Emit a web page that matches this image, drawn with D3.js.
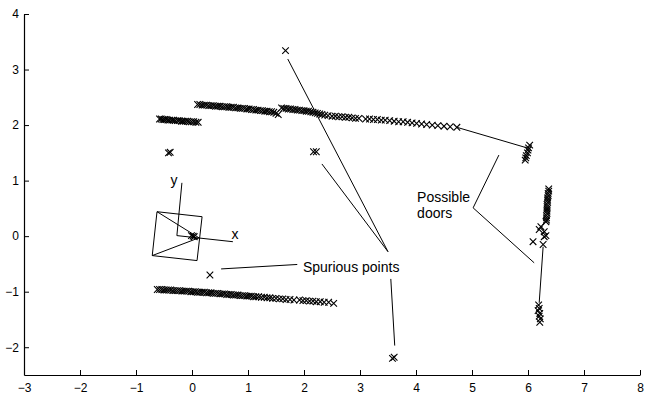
<!DOCTYPE html>
<html>
<head>
<meta charset="utf-8">
<script src="https://cdn.jsdelivr.net/npm/d3@7"></script>
<style>
  body { margin: 0; background: #fff; }
  svg { display: block; font-family: "Liberation Sans", Arial, Helvetica, sans-serif; }
</style>
</head>
<body>
<div id="chart"></div>
<script>
// axis ticks
const xTicks = [-3, -2, -1, 0, 1, 2, 3, 4, 5, 6, 7, 8];
const yTicks = [-2, -1, 0, 1, 2, 3, 4];

// laser scan points [x, y]
const wallUpperLeft = [
  [-0.58,2.11],[-0.55,2.11],[-0.52,2.10],[-0.49,2.10],[-0.46,2.10],[-0.43,2.09],[-0.40,2.09],
  [-0.36,2.09],[-0.33,2.09],[-0.30,2.08],[-0.26,2.08],[-0.23,2.08],[-0.19,2.07],[-0.16,2.07],
  [-0.12,2.07],[-0.08,2.07],[-0.05,2.06],[-0.01,2.06],[0.03,2.06],[0.07,2.05],[0.11,2.05]
];
const wallUpperMid = [
  [0.10,2.37],[0.14,2.37],[0.18,2.36],[0.22,2.36],[0.26,2.36],[0.30,2.35],[0.34,2.35],[0.38,2.35],
  [0.42,2.34],[0.46,2.34],[0.50,2.34],[0.54,2.33],[0.58,2.33],[0.62,2.33],[0.66,2.32],[0.70,2.32],
  [0.74,2.32],[0.78,2.31],[0.82,2.31],[0.86,2.30],[0.90,2.30],[0.94,2.30],[0.98,2.29],[1.02,2.29],
  [1.06,2.28],[1.10,2.28],[1.14,2.27],[1.18,2.27],[1.22,2.26],[1.26,2.26],[1.30,2.25],[1.34,2.25],
  [1.38,2.24],[1.42,2.24],[1.46,2.23],[1.50,2.21],[1.54,2.19]
];
const wallUpperRight = [
  [1.60,2.31],[1.64,2.30],[1.68,2.30],[1.72,2.29],[1.76,2.29],[1.80,2.28],[1.84,2.28],[1.88,2.27],
  [1.92,2.27],[1.96,2.26],[2.00,2.26],[2.04,2.25],[2.08,2.25],[2.12,2.24],[2.16,2.23],[2.20,2.22],
  [2.24,2.21],[2.28,2.20],[2.32,2.19],[2.37,2.18],[2.43,2.17]
];
const wallUpperFar = [
  [2.50,2.16],[2.56,2.16],[2.62,2.15],[2.68,2.15],[2.74,2.14],[2.80,2.14],[2.86,2.13],[2.92,2.12],
  [2.98,2.12],[3.10,2.11],[3.17,2.11],[3.24,2.10],[3.31,2.10],[3.38,2.09],[3.45,2.09],[3.53,2.08],
  [3.61,2.07],[3.69,2.06],[3.77,2.06],[3.85,2.05],[3.93,2.04],[4.01,2.03],[4.10,2.02],[4.19,2.01],
  [4.29,2.00],[4.39,1.99],[4.50,1.98],[4.61,1.97],[4.73,1.96]
];
const doorPostUpper = [
  [6.03,1.64],[6.01,1.59],[6.00,1.55],[5.99,1.50],[5.97,1.45],[5.96,1.41],[5.95,1.37]
];
const wallRight = [
  [6.37,0.85],[6.37,0.81],[6.36,0.77],[6.36,0.73],[6.35,0.69],[6.35,0.65],[6.35,0.61],[6.34,0.57],
  [6.34,0.53],[6.34,0.49],[6.34,0.45],[6.34,0.41],[6.33,0.37],[6.33,0.33],[6.33,0.29],[6.32,0.26],
  [6.23,0.17],[6.20,0.12],[6.29,0.08],[6.32,0.01],[6.29,-0.01],[6.27,-0.15],[6.09,-0.10]
];
const doorPostLower = [
  [6.19,-1.24],[6.20,-1.30],[6.18,-1.34],[6.21,-1.39],[6.20,-1.44],[6.22,-1.49],[6.21,-1.55]
];
const wallLower = [
  [-0.62,-0.96],[-0.58,-0.96],[-0.54,-0.96],[-0.50,-0.97],[-0.46,-0.97],[-0.42,-0.97],[-0.38,-0.97],
  [-0.34,-0.98],[-0.30,-0.98],[-0.26,-0.98],[-0.22,-0.98],[-0.18,-0.99],[-0.14,-0.99],[-0.10,-0.99],
  [-0.06,-0.99],[-0.02,-1.00],[0.02,-1.00],[0.06,-1.00],[0.10,-1.01],[0.14,-1.01],[0.18,-1.01],
  [0.22,-1.01],[0.26,-1.02],[0.30,-1.02],[0.34,-1.02],[0.38,-1.03],[0.42,-1.03],[0.46,-1.03],
  [0.50,-1.04],[0.54,-1.04],[0.58,-1.04],[0.62,-1.05],[0.66,-1.05],[0.70,-1.05],[0.74,-1.06],
  [0.78,-1.06],[0.82,-1.06],[0.86,-1.07],[0.90,-1.07],[0.94,-1.07],[0.98,-1.08],[1.02,-1.08],
  [1.06,-1.08],[1.10,-1.09],[1.14,-1.09],[1.19,-1.09],[1.24,-1.10],[1.29,-1.10],[1.34,-1.11],
  [1.39,-1.11],[1.44,-1.12],[1.50,-1.12],[1.56,-1.13],[1.62,-1.13],[1.68,-1.14],[1.75,-1.14],
  [1.82,-1.15],
  [1.92,-1.15],[1.98,-1.16],[2.04,-1.16],[2.10,-1.17],[2.16,-1.17],[2.22,-1.18],[2.29,-1.18],
  [2.36,-1.19],[2.44,-1.19],[2.53,-1.21]
];
const spurious = [
  [-0.42,1.50],[-0.39,1.51],[1.67,3.34],[2.17,1.52],[2.22,1.52],[0.32,-0.70],[3.58,-2.20],[3.61,-2.18]
];
const robotHits = [[-0.01,0.01],[0.02,0.00],[0.04,-0.01]];

// robot outline, heading triangle and local frame
const robotBox = [[-0.625,0.44],[0.18,0.35],[0.09,-0.44],[-0.71,-0.35],[-0.625,0.44]];
const robotHeading = [[-0.625,0.44],[0.125,-0.03],[-0.71,-0.35]];
const frameX = [[-0.27,0.01],[0.73,-0.10]];
const frameY = [[-0.27,0.01],[-0.18,0.96]];

// gap lines between door posts
const doorGaps = [
  [[4.73,1.96],[5.98,1.59]],
  [[6.27,-0.19],[6.20,-1.20]]
];

// annotations: text anchor and leader lines
const doorLabel = { text: ["Possible", "doors"], at: [4.02, 0.62] };
const doorLeaders = [[[5.02,0.51],[5.48,1.46]], [[5.02,0.51],[6.11,-0.48]]];
const spuriousLabel = { text: "Spurious points", at: [1.98, -0.64] };
const spuriousLeaders = [
  [[0.52,-0.59],[1.88,-0.51]],
  [[1.71,3.19],[3.50,-0.28]],
  [[2.32,1.30],[3.50,-0.28]],
  [[3.55,-0.77],[3.62,-1.97]]
];

const width = 658, height = 394;
const margin = { top: 14, right: 18, bottom: 19, left: 24 };

const svg = d3.select("#chart").append("svg")
  .attr("width", width)
  .attr("height", height);

const x = d3.scaleLinear().domain([-3, 8]).range([margin.left, width - margin.right]);
const y = d3.scaleLinear().domain([-2.5, 4]).range([height - margin.bottom, margin.top]);

const fmt = d => d < 0 ? "\u2212" + Math.abs(d) : String(d);

// x axis, ticks pointing inward
const xAxis = svg.append("g")
  .attr("transform", "translate(0," + (height - margin.bottom) + ")")
  .call(d3.axisBottom(x).tickValues(xTicks).tickFormat(fmt).tickSizeInner(-5).tickSizeOuter(0));
xAxis.selectAll("text").attr("dy", "0.71em").attr("y", 8);

const yAxis = svg.append("g")
  .attr("transform", "translate(" + margin.left + ",0)")
  .call(d3.axisLeft(y).tickValues(yTicks).tickFormat(fmt).tickSizeInner(-5).tickSizeOuter(0));
yAxis.selectAll("text").attr("x", -5);

svg.selectAll(".domain").attr("stroke", "#000").attr("stroke-width", 1.2);
svg.selectAll(".tick line").attr("stroke", "#000");
svg.selectAll(".tick text").attr("font-size", 12).attr("fill", "#000")
  .attr("font-family", "Liberation Sans, Arial, sans-serif");

const line = d3.line().x(d => x(d[0])).y(d => y(d[1]));

// lines
const lineGroup = svg.append("g").attr("fill", "none").attr("stroke", "#000").attr("stroke-width", 1);
[robotBox, robotHeading, frameX, frameY].concat(doorGaps, doorLeaders, spuriousLeaders)
  .forEach(pts => lineGroup.append("path").attr("d", line(pts)));

// scan markers
const allPoints = [].concat(wallUpperLeft, wallUpperMid, wallUpperRight, wallUpperFar,
  doorPostUpper, wallRight, doorPostLower, wallLower, spurious, robotHits);
const s = 3.3;
svg.append("g").selectAll("path")
  .data(allPoints)
  .enter()
  .append("path")
  .attr("d", "M" + -s + "," + -s + "L" + s + "," + s + "M" + -s + "," + s + "L" + s + "," + -s)
  .attr("transform", d => "translate(" + x(d[0]) + "," + y(d[1]) + ")")
  .attr("stroke", "#000")
  .attr("stroke-width", 1.1)
  .attr("fill", "none");

// text
const txt = svg.append("g").attr("font-size", 14).attr("fill", "#000");
txt.append("text").attr("x", x(-0.32)).attr("y", y(0.93)).attr("text-anchor", "middle").text("y");
txt.append("text").attr("x", x(0.77)).attr("y", y(-0.06)).attr("text-anchor", "middle").text("x");
doorLabel.text.forEach((t, i) => {
  txt.append("text").attr("x", x(doorLabel.at[0])).attr("y", y(doorLabel.at[1]) + i * 16).text(t);
});
txt.append("text").attr("x", x(spuriousLabel.at[0])).attr("y", y(spuriousLabel.at[1])).text(spuriousLabel.text);
</script>
</body>
</html>
